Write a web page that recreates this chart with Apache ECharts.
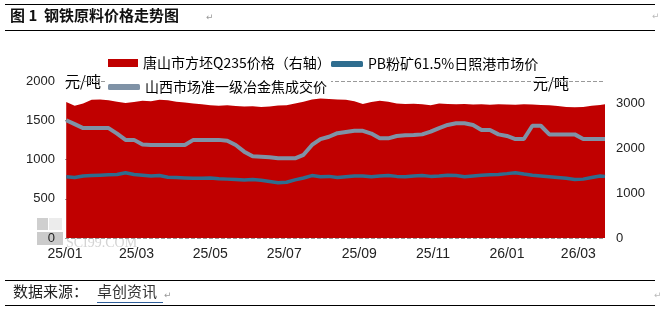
<!DOCTYPE html>
<html>
<head>
<meta charset="utf-8">
<script src="https://cdn.jsdelivr.net/npm/echarts@6/dist/echarts.min.js"></script>
<style>
html,body{margin:0;padding:0;background:#fff;}
#c{width:662px;height:311px;}
</style>
</head>
<body>
<div id="c"></div>
<script>
const dates = [
'2025-01-02','2025-01-09','2025-01-16','2025-01-23','2025-01-30','2025-02-06','2025-02-13','2025-02-20','2025-02-27',
'2025-03-06','2025-03-13','2025-03-20','2025-03-27','2025-04-03','2025-04-10','2025-04-17','2025-04-24',
'2025-05-01','2025-05-08','2025-05-15','2025-05-22','2025-05-29','2025-06-05','2025-06-12','2025-06-19','2025-06-26',
'2025-07-03','2025-07-10','2025-07-17','2025-07-24','2025-07-31','2025-08-07','2025-08-14','2025-08-21','2025-08-28',
'2025-09-04','2025-09-11','2025-09-18','2025-09-25','2025-10-02','2025-10-09','2025-10-16','2025-10-23','2025-10-30',
'2025-11-06','2025-11-13','2025-11-20','2025-11-27','2025-12-04','2025-12-11','2025-12-18','2025-12-25',
'2026-01-01','2026-01-08','2026-01-15','2026-01-22','2026-01-29','2026-02-05','2026-02-12','2026-02-19','2026-02-26',
'2026-03-05','2026-03-12','2026-03-19','2026-03-23'
];
const billet = [
3030,2950,3000,3080,3090,3070,3040,3010,3030,
3060,3050,3080,3070,3040,3020,3000,2980,
2960,2950,2960,2940,2930,2935,2920,2930,2955,
2960,3000,3040,3090,3110,3100,3090,3080,3050,
2990,3030,3060,3040,3000,2990,2995,2980,2960,
3000,2990,2980,2990,2975,2980,2970,2980,
2975,2970,2980,2975,2965,2960,2940,2920,2915,
2920,2950,2965,2980
];
const ore = [
781,770,790,795,800,805,810,832,810,
800,790,795,775,770,765,760,760,
765,755,750,745,740,745,735,720,705,
710,740,765,795,780,785,770,780,790,
790,780,790,795,785,780,790,795,785,
790,800,795,780,790,800,805,810,
820,832,815,800,790,780,770,760,745,
750,770,790,785
];
const coke = [
1500,1450,1400,1400,1400,1400,1330,1250,1250,
1190,1185,1185,1185,1185,1185,1250,1250,
1250,1250,1240,1185,1100,1040,1036,1030,1015,
1015,1015,1060,1185,1260,1290,1335,1350,1365,
1365,1330,1270,1270,1300,1310,1312,1320,1354,
1400,1440,1461,1461,1440,1376,1376,1320,
1300,1261,1261,1430,1430,1320,1320,1320,1320,
1261,1261,1261,1261
];
const xTickDates = ['2025-01-01','2025-03-01','2025-05-01','2025-07-01','2025-09-01','2025-11-01','2026-01-01','2026-03-01'];
const leftTicks = [0, 500, 1000, 1500, 2000];
const rightTicks = [0, 1000, 2000, 3000];
const names = ['唐山市方坯Q235价格（右轴）', 'PB粉矿61.5%日照港市场价', '山西市场准一级冶金焦成交价'];

const base = Date.UTC(2025, 0, 1);
const DAY = 86400000;
function dayOf(s){ const p = s.split('-'); return (Date.UTC(+p[0], +p[1]-1, +p[2]) - base) / DAY; }
function fmtDay(d){ const t = new Date(base + Math.round(d) * DAY); const y = String(t.getUTCFullYear()).slice(2); const m = String(t.getUTCMonth()+1).padStart(2,'0'); return y + '/' + m; }
const xs = dates.map(dayOf);
const pair = arr => arr.map((v,i) => [xs[i], v]);

const chart = echarts.init(document.getElementById('c'), null, {renderer:'canvas'});
const CJK = '"Noto Sans CJK SC", sans-serif';
chart.setOption({
  animation: false,
  backgroundColor: '#fff',
  grid: {left: 65, right: 57, top: 81, bottom: 73},
  legend: [
    {left: 108, top: 56, padding: 0, itemWidth: 30, itemHeight: 8, itemGap: 5,
     data: [{name: names[0], icon: 'rect'}],
     textStyle: {fontSize: 14, color: '#000', fontFamily: CJK}},
    {left: 331, top: 57, padding: 0, itemWidth: 32, itemHeight: 6, 
     data: [{name: names[1], icon: 'roundRect'}],
     textStyle: {fontSize: 14, color: '#000', fontFamily: CJK}},
    {left: 106, top: 79, padding: [1, 4, 1, 2], backgroundColor: '#fff', itemWidth: 32, itemHeight: 6,
     data: [{name: names[2], icon: 'roundRect'}],
     textStyle: {fontSize: 14, color: '#000', fontFamily: CJK}}
  ],
  xAxis: {
    type: 'value', min: 0, max: dayOf('2026-03-23'),
    axisLine: {show: false}, axisTick: {show: false}, splitLine: {show: false},
    axisLabel: {customValues: xTickDates.map(dayOf), formatter: v => fmtDay(v), color: '#222', fontSize: 14,
      fontFamily: '"Liberation Sans", sans-serif', margin: 9}
  },
  yAxis: [
    {type: 'value', min: leftTicks[0], max: leftTicks[leftTicks.length-1], interval: 500,
     axisLine: {show: false}, axisTick: {show: false},
     splitLine: {show: true, lineStyle: {type: 'dashed', color: '#999', width: 1}},
     axisLabel: {color: '#222', fontSize: 13, fontFamily: '"Liberation Sans", sans-serif', margin: 10,
       formatter: v => String(v)}},
    {type: 'value', min: 0, max: 3500, interval: 1000, position: 'right',
     axisLine: {show: false}, axisTick: {show: false}, splitLine: {show: false},
     axisLabel: {color: '#222', fontSize: 13, fontFamily: '"Liberation Sans", sans-serif', margin: 11,
       formatter: v => rightTicks.indexOf(v) >= 0 ? String(v) : ''}}
  ],
  series: [
    {name: names[0], type: 'line', yAxisIndex: 1, data: pair(billet), showSymbol: false,
     lineStyle: {width: 0}, itemStyle: {color: '#c00000'}, areaStyle: {color: '#c00000', opacity: 1}, z: 2},
    {name: names[1], type: 'line', yAxisIndex: 0, data: pair(ore), showSymbol: false,
     lineStyle: {width: 3.5, color: '#2f6d8f'}, itemStyle: {color: '#2f6d8f'}, z: 4},
    {name: names[2], type: 'line', yAxisIndex: 0, data: pair(coke), showSymbol: false,
     lineStyle: {width: 4, color: '#7f92a6'}, itemStyle: {color: '#7f92a6'}, z: 3}
  ],
  graphic: [
    {type: 'line', shape: {x1: 5, y1: 4.5, x2: 655, y2: 4.5}, style: {stroke: '#000', lineWidth: 1}},
    {type: 'line', shape: {x1: 5, y1: 30.5, x2: 655, y2: 30.5}, style: {stroke: '#000', lineWidth: 1}},
    {type: 'text', left: 10, top: 8, style: {text: '图 1  钢铁原料价格走势图', fontSize: 15, fontWeight: 'bold', fontFamily: CJK, fill: '#111'}},
    {type: 'text', left: 206, top: 13, style: {text: '↵', fontSize: 9, fill: '#999', fontFamily: 'DejaVu Sans'}},
    {type: 'text', left: 652, top: 12, style: {text: '↵', fontSize: 9, fill: '#bbb', fontFamily: 'DejaVu Sans'}},
    {type: 'text', left: 65, top: 74, style: {text: '元/吨', fontSize: 15, fontFamily: CJK, fill: '#000', backgroundColor: '#fff'}},
    {type: 'text', left: 533, top: 76, style: {text: '元/吨', fontSize: 15, fontFamily: CJK, fill: '#000'}},
    {type: 'line', shape: {x1: 5, y1: 280.5, x2: 655, y2: 280.5}, style: {stroke: '#000', lineWidth: 1}},
    {type: 'line', shape: {x1: 5, y1: 305.5, x2: 655, y2: 305.5}, style: {stroke: '#000', lineWidth: 1}},
    {type: 'text', left: 13, top: 284, style: {text: '数据来源：', fontSize: 15, fontFamily: CJK, fill: '#222'}},
    {type: 'text', left: 97, top: 284, style: {text: '卓创资讯', fontSize: 15, fontFamily: CJK, fill: '#333'}},
    {type: 'line', shape: {x1: 97, y1: 302.5, x2: 163, y2: 302.5}, style: {stroke: '#2f5f9a', lineWidth: 1}},
    {type: 'text', left: 164, top: 291, style: {text: '↵', fontSize: 9, fill: '#999', fontFamily: 'DejaVu Sans'}},
    {type: 'text', left: 654, top: 291, style: {text: '↵', fontSize: 9, fill: '#bbb', fontFamily: 'DejaVu Sans'}},
    {type: 'rect', z: -1, shape: {x: 37, y: 218, width: 11, height: 12}, style: {fill: '#cfcfcf'}},
    {type: 'rect', z: -1, shape: {x: 49, y: 218, width: 13, height: 12}, style: {fill: '#ececec'}},
    {type: 'rect', z: -1, shape: {x: 37, y: 232, width: 26, height: 13}, style: {fill: '#cbcbcb'}},
    {type: 'text', z: -1, left: 66, top: 236, style: {text: 'SCI99.COM', fontSize: 14, fontFamily: '"Liberation Serif", serif', fill: '#d4d4d4'}}
  ]
});
</script>
</body>
</html>
